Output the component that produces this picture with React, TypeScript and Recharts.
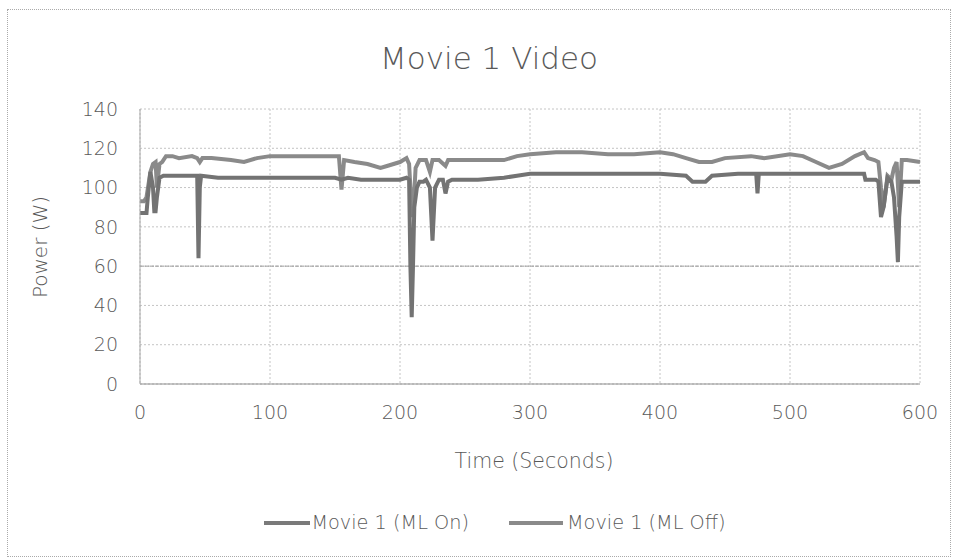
import React from "react";
import { LineChart, Line, XAxis, YAxis, CartesianGrid, Legend, ReferenceLine } from "recharts";

const xTicks = [0, 100, 200, 300, 400, 500, 600];
const yTicks = [0, 20, 40, 60, 80, 100, 120, 140];

const onTime = [0, 5, 6, 8, 10, 11, 12, 13, 15, 18, 25, 40, 44, 45, 46, 47, 60, 80, 100, 120, 150, 155, 160, 170, 190, 200, 205, 207, 208, 209, 210, 211, 212, 213, 215, 218, 220, 223, 225, 227, 230, 233, 235, 237, 240, 260, 280, 290, 300, 320, 340, 380, 400, 420, 425, 435, 440, 460, 474, 475, 476, 500, 520, 540, 557, 558, 566, 568, 570, 572, 575, 578, 580, 582, 583, 584, 586, 590, 600];
const onPower = [87, 87, 95, 108, 100, 88, 88, 95, 105, 106, 106, 106, 106, 64, 100, 106, 105, 105, 105, 105, 105, 104, 105, 104, 104, 104, 105, 104, 60, 34, 60, 90, 95, 100, 103, 103, 104, 100, 73, 100, 104, 104, 97, 103, 104, 104, 105, 106, 107, 107, 107, 107, 107, 106, 103, 103, 106, 107, 107, 97, 107, 107, 107, 107, 107, 104, 104, 103, 85, 90, 105, 103, 95, 75, 62, 85, 103, 103, 103];

const offTime = [0, 3, 5, 8, 10, 12, 13, 15, 17, 20, 25, 30, 40, 44, 46, 48, 55, 70, 80, 90, 100, 120, 140, 153, 155, 157, 165, 175, 185, 190, 200, 205, 207, 208, 210, 212, 215, 220, 223, 225, 230, 235, 237, 245, 260, 280, 290, 300, 320, 340, 360, 380, 400, 410, 420, 430, 440, 450, 470, 480, 500, 510, 520, 530, 540, 550, 557, 560, 565, 568, 570, 572, 575, 578, 580, 582, 584, 586, 590, 600];
const offPower = [93, 93, 95, 108, 112, 113, 100, 112, 113, 116, 116, 115, 116, 115, 113, 115, 115, 114, 113, 115, 116, 116, 116, 116, 99, 114, 113, 112, 110, 111, 113, 115, 112, 100, 85, 110, 114, 114, 108, 114, 114, 111, 114, 114, 114, 114, 116, 117, 118, 118, 117, 117, 118, 117, 115, 113, 113, 115, 116, 115, 117, 116, 113, 110, 112, 116, 118, 115, 114, 113, 100, 90, 106, 104, 110, 113, 90, 114, 114, 113];

const onData = onTime.map((t, i) => ({ t, v: onPower[i] }));
const offData = offTime.map((t, i) => ({ t, v: offPower[i] }));

const FONT = "'DejaVu Sans', sans-serif";
const TXT = "#595959";
const W = 300;

const LegendContent = () => (
  <div style={{ display: "flex", justifyContent: "center", alignItems: "center", fontFamily: FONT, fontWeight: W, fontSize: 19.3, color: TXT, paddingLeft: 32 }}>
    <svg width={46} height={10}><line x1={0} y1={5} x2={46} y2={5} stroke="#7a7a7a" strokeWidth={4} /></svg>
    <span style={{ marginLeft: 1 }}>Movie 1 (ML On)</span>
    <svg width={54} height={10} style={{ marginLeft: 40 }}><line x1={0} y1={5} x2={54} y2={5} stroke="#8a8a8a" strokeWidth={4} /></svg>
    <span style={{ marginLeft: 4 }}>Movie 1 (ML Off)</span>
  </div>
);

export default function App() {
  return (
    <div style={{ position: "absolute", left: 0, top: 0, width: 958, height: 559, background: "#fff" }}>
      <div style={{ position: "absolute", left: 7, top: 9, width: 942, height: 546, border: "1px dotted #aaa" }} />
      <div style={{ position: "absolute", left: 0, top: 40, width: 978, textAlign: "center", fontFamily: FONT, fontWeight: W, fontSize: 31, color: TXT }}>Movie 1 Video</div>
      <div style={{ position: "absolute", left: 40, top: 247, transform: "translate(-50%, -50%) rotate(-90deg)", fontFamily: FONT, fontWeight: W, fontSize: 20, color: TXT, whiteSpace: "nowrap" }}>Power (W)</div>
      <div style={{ position: "absolute", left: 534, top: 461, transform: "translate(-50%, -50%)", fontFamily: FONT, fontWeight: W, fontSize: 20.5, color: TXT, whiteSpace: "nowrap" }}>Time (Seconds)</div>
      <div style={{ position: "absolute", left: 0, top: 0 }}>
        <LineChart width={958} height={559} margin={{ top: 109, right: 38, bottom: 122, left: 80 }}>
          <CartesianGrid stroke="#c4c4c4" strokeDasharray="2 2" />
          <ReferenceLine y={60} stroke="#9a9a9a" strokeDasharray="4 1" />
          <XAxis
            type="number"
            dataKey="t"
            domain={[0, 600]}
            ticks={xTicks}
            allowDuplicatedCategory={false}
            height={30}
            tickLine={false}
            axisLine={{ stroke: "#8f8f8f" }}
            tickSize={0}
            tickMargin={22}
            tick={{ fontFamily: FONT, fontWeight: W, fontSize: 19, fill: TXT }}
          />
          <YAxis
            type="number"
            domain={[0, 140]}
            ticks={yTicks}
            width={60}
            tickLine={false}
            axisLine={{ stroke: "#a8a8a8" }}
            tickSize={0}
            tickMargin={22}
            tick={{ fontFamily: FONT, fontWeight: W, fontSize: 19, fill: TXT }}
          />
          <Legend verticalAlign="bottom" content={<LegendContent />} wrapperStyle={{ position: "absolute", top: 511, left: 0, width: 958 }} />
          <Line data={offData} dataKey="v" name="Movie 1 (ML Off)" type="linear" stroke="#8a8a8a" strokeWidth={4} dot={false} isAnimationActive={false} />
          <Line data={onData} dataKey="v" name="Movie 1 (ML On)" type="linear" stroke="#737373" strokeWidth={4} dot={false} isAnimationActive={false} />
        </LineChart>
      </div>
    </div>
  );
}
